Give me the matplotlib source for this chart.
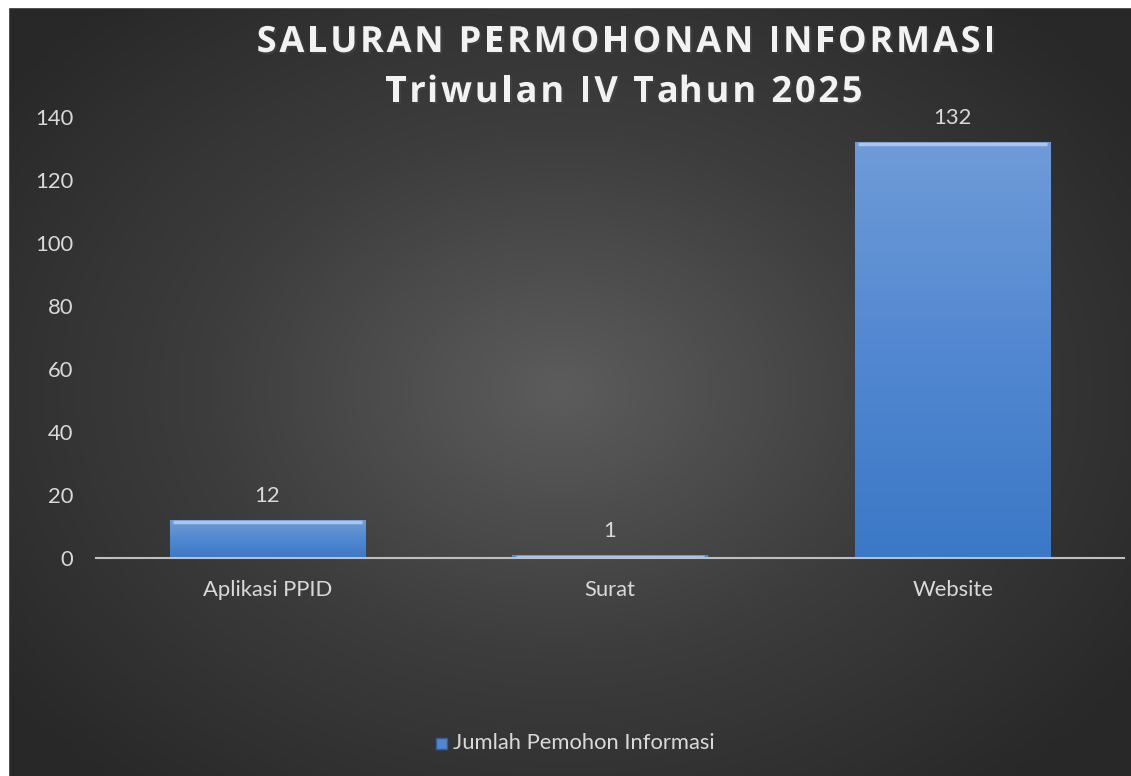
import numpy as np
import matplotlib
matplotlib.use("Agg")
import matplotlib.pyplot as plt
import matplotlib.patheffects as pe
from matplotlib.transforms import IdentityTransform
from matplotlib.colors import LinearSegmentedColormap

# data
kategori = ["Aplikasi PPID", "Surat", "Website"]
jumlah = [12, 1, 132]
judul1 = "SALURAN PERMOHONAN INFORMASI"
judul2 = "Triwulan IV Tahun 2025"
seri = "Jumlah Pemohon Informasi"
y_ticks = [0, 20, 40, 60, 80, 100, 120, 140]

plt.rcParams['font.family'] = ['Lato', 'DejaVu Sans']
teks = '#d9d9d9'
fs = 15.8

fig = plt.figure(figsize=(11.31, 7.76), dpi=100)
renderer = fig.canvas.get_renderer()

# latar belakang gradien radial
bg = fig.add_axes([0, 0, 1, 1])
yy, xx = np.mgrid[0:776, 0:1131]
r = np.sqrt(((xx - 560) / 700.0) ** 2 + ((yy - 390) / 520.0) ** 2)
r = np.clip(r, 0, 1)
bg_cmap = LinearSegmentedColormap.from_list('bg', ['#5c5c5c', '#3d3d3d', '#282828'])
bg.imshow(r, cmap=bg_cmap, aspect='auto', extent=[0, 1131, 776, 0], vmin=0, vmax=1)
# border putih di kiri dan atas
bg.axhspan(0, 7, color='white')
bg.axvspan(0, 8, color='white')
bg.set_xlim(0, 1131)
bg.set_ylim(776, 0)
bg.axis('off')

ax = fig.add_axes([96 / 1131, 1 - 558 / 776, 1028 / 1131, 441 / 776])
ax.patch.set_alpha(0)

x = np.arange(len(kategori))
bars = ax.bar(x, jumlah, width=0.57, color='#4f86cf', edgecolor='#2f5f9e', linewidth=0.8, zorder=2)

bar_cmap = LinearSegmentedColormap.from_list('bar', ['#3b78c6', '#5288d1', '#6f9bd8'])
grad = np.linspace(0, 1, 256).reshape(-1, 1)
for b in bars:
    bx, by = b.get_x(), b.get_y()
    bw, bh = b.get_width(), b.get_height()
    im = ax.imshow(grad, cmap=bar_cmap, aspect='auto', origin='lower',
                   extent=[bx, bx + bw, by, by + bh], zorder=3)
    im.set_clip_path(b)
    # bevel atas
    ax.plot([bx + 0.01, bx + bw - 0.01], [by + bh - 0.6, by + bh - 0.6],
            color='#a9c6ee', linewidth=2.5, zorder=4, solid_capstyle='butt')

for xi, v in zip(x, jumlah):
    ax.text(xi, v + 4.5, str(v), ha='center', va='bottom', color=teks, fontsize=fs)

ax.set_xlim(-0.5, len(kategori) - 0.5)
ax.set_ylim(0, 140)
ax.set_yticks(y_ticks)
ax.set_xticks(x)
ax.set_xticklabels(kategori)
for s in ['top', 'right', 'left']:
    ax.spines[s].set_visible(False)
ax.spines['bottom'].set_color('#bfbfbf')
ax.spines['bottom'].set_linewidth(1.5)
ax.spines['bottom'].set_zorder(5)
ax.tick_params(axis='both', length=0, colors=teks, labelsize=fs)
ax.tick_params(axis='x', pad=16)
ax.tick_params(axis='y', pad=16.5)


# judul dengan jarak huruf (letter spacing)
def lebar(s, kw):
    t = fig.text(0, 0, s + '|', transform=IdentityTransform(), **kw)
    w = t.get_window_extent(renderer).width
    t.remove()
    return w


def judul_spasi(s, xc, y_base, spasi, kw):
    w_bar = lebar('', kw)
    pos = [lebar(s[:i], kw) - w_bar for i in range(len(s) + 1)]
    total = pos[-1] + spasi * (len(s) - 1)
    x0 = xc - total / 2
    for i, ch in enumerate(s):
        if ch == ' ':
            continue
        fig.text(x0 + pos[i] + spasi * i, 776 - y_base, ch, transform=IdentityTransform(),
                 ha='left', va='baseline', **kw)


kw_judul = dict(fontsize=26, fontweight='bold', family=['Open Sans', 'DejaVu Sans'],
                color='#f2f2f2',
                path_effects=[pe.SimplePatchShadow(offset=(1.5, -1.5), alpha=0.5), pe.Normal()])
judul_spasi(judul1, 626, 52, 2.8, kw_judul)
judul_spasi(judul2, 624, 102, 2.9, kw_judul)

# legenda
fig.patches.append(plt.Rectangle((436 / 1131, 1 - 749 / 776), 11 / 1131, 11 / 776,
                                 transform=fig.transFigure, facecolor='#4f86cf',
                                 edgecolor='#2f5f9e', figure=fig))
fig.text(453 / 1131, 1 - 743 / 776, seri, ha='left', va='center', color=teks, fontsize=fs)

fig.savefig('out.png', dpi=100)
